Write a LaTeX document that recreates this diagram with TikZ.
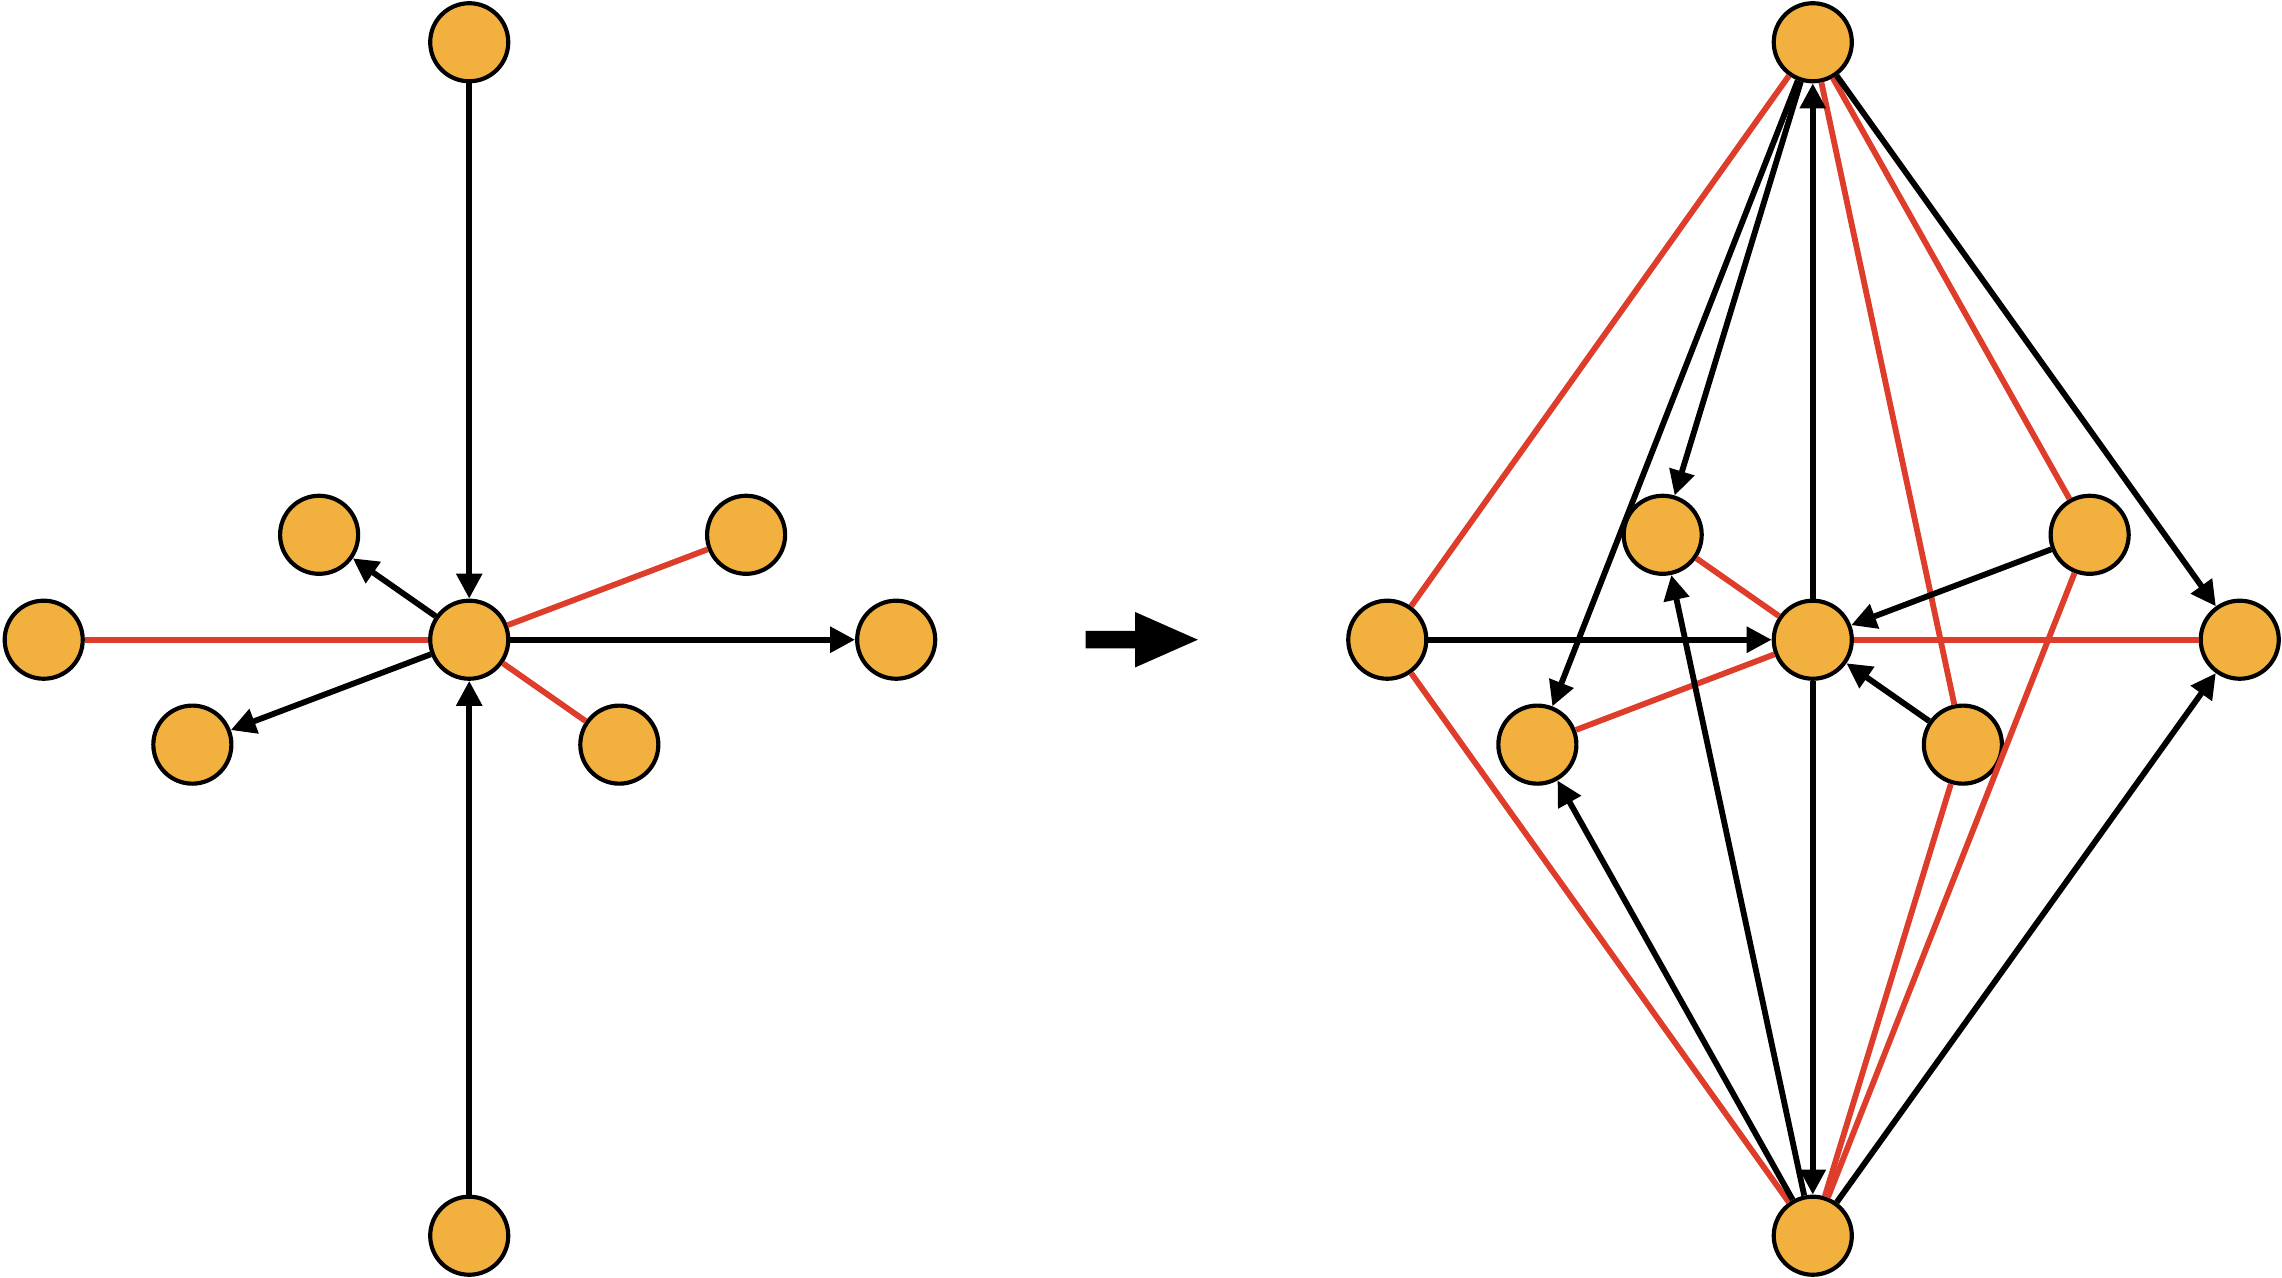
\documentclass[tikz,border=0pt]{standalone}
\usetikzlibrary{arrows.meta}
\definecolor{nodeorange}{HTML}{F2B13E}
\definecolor{edgered}{HTML}{DD3D2A}
\begin{document}
\begin{tikzpicture}[x=0.7pt,y=-0.7pt,
  vtx/.style={circle,draw=black,fill=nodeorange,line width=2pt,minimum size=37.5pt,inner sep=0pt},
  arr/.style={draw=black,line width=2.8pt,-{Triangle[length=12pt,width=12pt]}},
  redl/.style={draw=edgered,line width=2.8pt}]
\useasboundingbox (0,0) rectangle (1566,877);
% left graph
\node[vtx] (T) at (322,29) {};
\node[vtx] (C) at (322,439) {};
\node[vtx] (B) at (322,848) {};
\node[vtx] (L) at (30,439) {};
\node[vtx] (R) at (615,439) {};
\node[vtx] (UL) at (219,367) {};
\node[vtx] (UR) at (512,367) {};
\node[vtx] (LL) at (132,511) {};
\node[vtx] (LR) at (425,511) {};
% right graph
\node[vtx] (T2) at (1244,29) {};
\node[vtx] (C2) at (1244,439) {};
\node[vtx] (B2) at (1244,848) {};
\node[vtx] (L2) at (952,439) {};
\node[vtx] (R2) at (1537,439) {};
\node[vtx] (UL2) at (1141,367) {};
\node[vtx] (UR2) at (1434,367) {};
\node[vtx] (LL2) at (1055,511) {};
\node[vtx] (LR2) at (1347,511) {};
% left edges
\draw[redl] (C) -- (L);
\draw[redl] (C) -- (UR);
\draw[redl] (C) -- (LR);
\draw[arr] (T) -- (C);
\draw[arr] (B) -- (C);
\draw[arr] (C) -- (UL);
\draw[arr] (C) -- (LL);
\draw[arr] (C) -- (R);
% big arrow
\fill[black] (745,433) -- (779,433) -- (779,420) -- (822,439) -- (779,458) -- (779,445) -- (745,445) -- cycle;
% right edges
\draw[redl] (C2) -- (R2);
\draw[redl] (UL2) -- (C2);
\draw[redl] (C2) -- (LL2);
\draw[redl] (T2) -- (L2);
\draw[redl] (T2) -- (UR2);
\draw[redl] (T2) -- (LR2);
\draw[redl] (B2) -- (L2);
\draw[redl] (B2) -- (LR2);
\draw[redl] (B2) -- (UR2);
\draw[arr] (L2) -- (C2);
\draw[arr] (UR2) -- (C2);
\draw[arr] (LR2) -- (C2);
\draw[arr] (C2) -- (T2);
\draw[arr] (C2) -- (B2);
\draw[arr] (T2) -- (UL2);
\draw[arr] (T2) -- (LL2);
\draw[arr] (T2) -- (R2);
\draw[arr] (B2) -- (LL2);
\draw[arr] (B2) -- (UL2);
\draw[arr] (B2) -- (R2);
\end{tikzpicture}
\end{document}
